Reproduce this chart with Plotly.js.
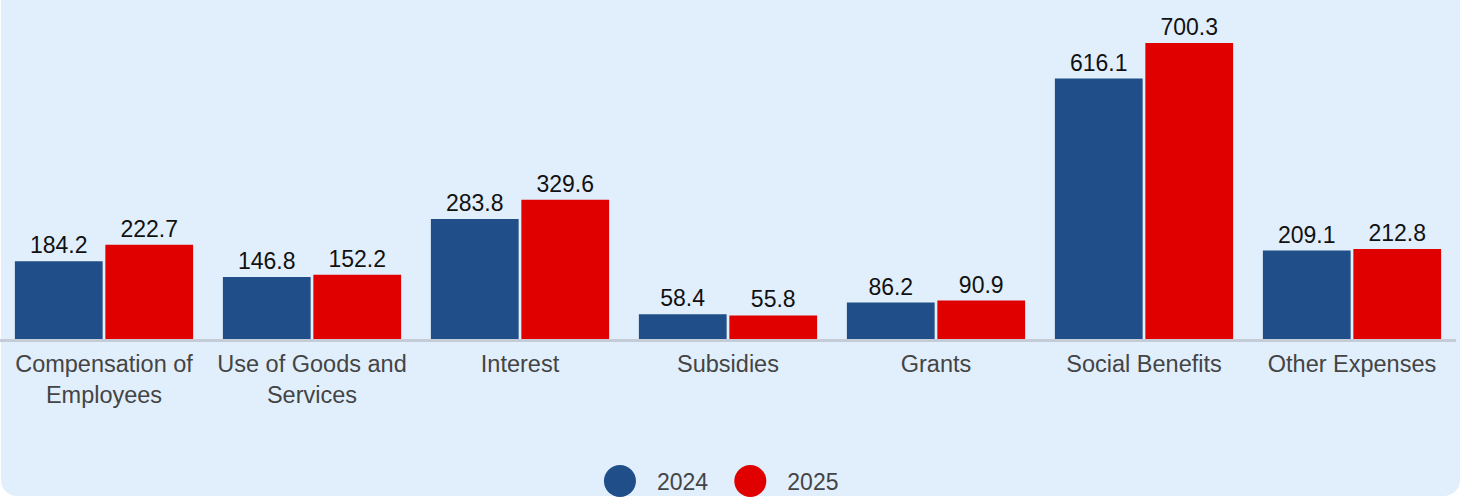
<!DOCTYPE html>
<html>
<head>
<meta charset="utf-8">
<script src="https://cdn.plot.ly/plotly-3.0.1.min.js"></script>
<style>
  html, body { margin: 0; padding: 0; background: #ffffff; width: 1463px; height: 497px; overflow: hidden; }
  #bg { position: absolute; left: 1px; top: -20px; width: 1459px; height: 516px; background: #e1effd; border-radius: 16px; }
  #chart { position: absolute; left: 0; top: 0; width: 1463px; height: 497px; }
</style>
</head>
<body>
<div id="bg"></div>
<div id="chart"></div>
<script>
const categories = ["Compensation of<br>Employees", "Use of Goods and<br>Services", "Interest", "Subsidies", "Grants", "Social Benefits", "Other Expenses"];
const seriesNames = ["2024", "2025"];
const values2024 = [184.2, 146.8, 283.8, 58.4, 86.2, 616.1, 209.1];
const values2025 = [222.7, 152.2, 329.6, 55.8, 90.9, 700.3, 212.8];
const seriesColors = ["#1f4e89", "#e00000"];

const seriesValues = [values2024, values2025];
const traces = seriesNames.map((name, i) => ({
  type: "bar",
  name: name,
  x: categories,
  y: seriesValues[i],
  marker: { color: seriesColors[i] },
  text: seriesValues[i].map(v => v.toFixed(1)),
  textposition: "outside",
  textfont: { family: "Liberation Sans, Arial, sans-serif", size: 23, color: "#111111" },
  cliponaxis: false,
  hoverinfo: "x+y"
}));

const layout = {
  width: 1463,
  height: 497,
  margin: { l: 0, r: 7, t: 0, b: 158, autoexpand: false },
  paper_bgcolor: "rgba(0,0,0,0)",
  plot_bgcolor: "rgba(0,0,0,0)",
  barmode: "group",
  bargap: 0.13,
  bargroupgap: 0.03,
  font: { family: "Liberation Sans, Arial, sans-serif", size: 23, color: "#444444" },
  xaxis: {
    showline: true,
    linecolor: "#c3ccd7",
    linewidth: 3,
    ticks: "",
    ticklabelstandoff: 2,
    tickfont: { size: 23.5, color: "#444444" },
    showgrid: false,
    zeroline: false,
    automargin: false,
    fixedrange: true
  },
  yaxis: {
    range: [0, 802],
    visible: false,
    showgrid: false,
    zeroline: false,
    fixedrange: true
  },
  showlegend: true,
  legend: {
    orientation: "h",
    x: 0.49,
    xanchor: "center",
    y: -0.419,
    yanchor: "middle",
    itemwidth: 64,
    font: { size: 23, color: "#444444" },
    bgcolor: "rgba(0,0,0,0)",
    itemclick: false,
    itemdoubleclick: false
  }
};

function circleLegend() {
  const r = 16;
  const d = "M" + r + ",0A" + r + "," + r + " 0 1,1 0,-" + r + "A" + r + "," + r + " 0 0,1 " + r + ",0Z";
  document.querySelectorAll("#chart .legend .legendpoints path").forEach(p => {
    p.setAttribute("d", d);
    p.style.strokeWidth = "0px";
  });
}

Plotly.newPlot("chart", traces, layout, { displayModeBar: false, responsive: false }).then(gd => {
  circleLegend();
  gd.on("plotly_afterplot", circleLegend);
});
</script>
</body>
</html>
